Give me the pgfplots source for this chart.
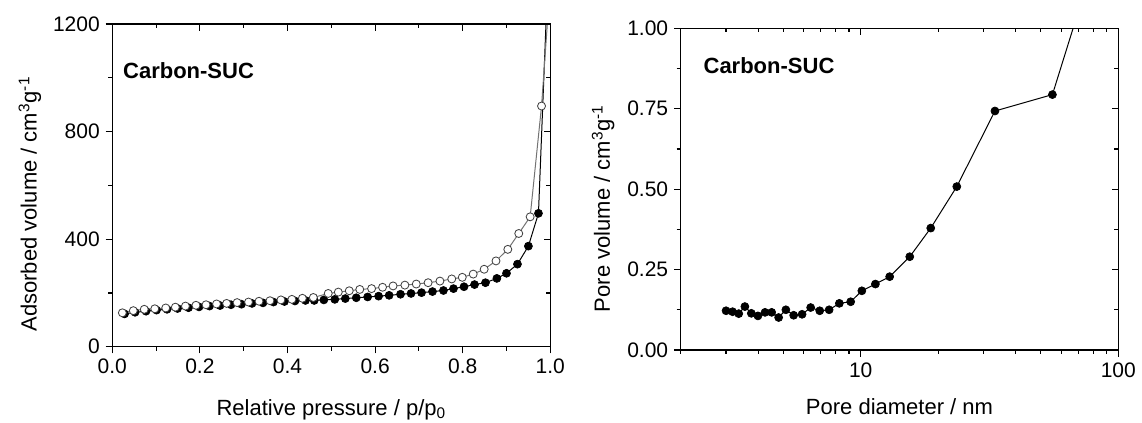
\documentclass[border=0pt]{standalone}
\usepackage{fontspec}
\setmainfont{Liberation Sans}
\usepackage{pgfplots}
\usepackage{pgfplotstable}
\pgfplotsset{compat=1.18}

\pgfplotstableread{
p v
0.028 122
0.052 128
0.077 132
0.101 136
0.125 139
0.149 142
0.174 145
0.198 148
0.222 151
0.246 153
0.271 156
0.295 158
0.319 161
0.344 163
0.368 166
0.393 168
0.417 170
0.441 172
0.461 172
0.483 174
0.508 176
0.532 179
0.557 182
0.583 185
0.608 188
0.632 191
0.658 195
0.682 198
0.706 201
0.731 205
0.756 209
0.779 216
0.803 223
0.827 231
0.852 238
0.878 254
0.900 273
0.925 307
0.950 374
0.973 496
0.995 1400
}\adsorption

\pgfplotstableread{
p v
0.023 126
0.048 134
0.073 139
0.097 141
0.122 144
0.144 147
0.167 151
0.191 154
0.214 156
0.238 159
0.261 161
0.285 164
0.311 166
0.335 169
0.360 171
0.385 174
0.410 176
0.434 180
0.459 183
0.493 198
0.516 203
0.541 208
0.565 213
0.592 216
0.617 221
0.641 226
0.668 229
0.694 233
0.721 238
0.748 244
0.775 252
0.799 258
0.824 270
0.849 288
0.876 319
0.903 362
0.928 421
0.954 483
0.980 895
0.995 1241
}\desorption

\pgfplotstableread{
d v
3.00 0.122
3.18 0.119
3.36 0.113
3.55 0.135
3.76 0.114
3.99 0.106
4.25 0.117
4.51 0.117
4.80 0.101
5.12 0.125
5.49 0.108
5.92 0.111
6.39 0.132
6.93 0.122
7.54 0.125
8.26 0.145
9.14 0.150
10.1 0.184
11.4 0.205
12.95 0.228
15.5 0.290
18.7 0.379
23.6 0.508
33.2 0.743
55.5 0.794
80.0 1.202
}\poresize

\pgfplotsset{
  base/.style={
    scale only axis,
    axis line style={line width=0.9pt},
    every tick/.style={line width=0.7pt,black},
    major tick length=4pt,
    minor tick length=2.4pt,
    ticklabel style={font=\fontsize{12.6}{14}\selectfont},
    label style={font=\fontsize{13.2}{15}\selectfont},
    /pgf/number format/assume math mode=true,
    /pgf/number format/1000 sep={},
  },
  mirror/.style={
    base,
    xtick pos=right, ytick pos=right,
    tick align=inside,
    xticklabels={}, yticklabels={},
  },
  leftax/.style={
    width=262.8pt, height=193.6pt,
    at={(67.38pt,45.78pt)}, anchor=south west,
    xmin=0, xmax=1, ymin=0, ymax=1200,
    xtick={0,0.2,...,1.0}, minor x tick num=1,
    ytick={0,400,800,1200}, minor y tick num=1,
  },
  rightax/.style={
    width=262.56pt, height=193.0pt,
    at={(408.42pt,43.8pt)}, anchor=south west,
    xmin=2, xmax=100, ymin=0, ymax=1,
    xtick={10,100},
    minor xtick={2,3,4,5,6,7,8,9,20,30,40,50,60,70,80,90},
    ytick={0,0.25,0.5,0.75,1}, minor y tick num=1,
  },
}

\begin{document}
\begin{tikzpicture}
\useasboundingbox (0,0) rectangle (685.2pt,253.8pt);

% ---------- left: isotherm ----------
\begin{axis}[
  base, leftax,
  xtick pos=left, ytick pos=left,
  tick align=outside,
  xticklabel style={/pgf/number format/.cd,fixed,fixed zerofill,precision=1},
  yticklabel style={/pgf/number format/.cd,fixed,precision=0},
  xlabel={Relative pressure / p/p\textsubscript{0}},
  ylabel={Adsorbed volume / cm\textsuperscript{3}g\textsuperscript{-1}},
  xlabel style={at={(rel axis cs:0.5,-0.2117)}, anchor=base},
  ylabel style={at={(rel axis cs:-0.1726,0.442)}, anchor=base},
]
\addplot[black, line width=0.6pt, mark=*, mark size=2.4pt,
  mark options={fill=black, draw=black, line width=0.4pt}]
  table[x=p, y=v] {\adsorption};
\addplot[black!55, line width=0.6pt, mark=*, mark size=2.4pt,
  mark options={fill=white, draw=black!75, line width=0.5pt}]
  table[x=p, y=v] {\desorption};
\node[anchor=west, inner sep=0pt, font=\fontsize{13.2}{15}\selectfont\bfseries]
  at (rel axis cs:0.024,0.857) {Carbon-SUC};
\end{axis}
\begin{axis}[mirror, leftax]
\end{axis}

% ---------- right: pore size ----------
\begin{axis}[
  xmode=log,
  base, rightax,
  xtick pos=left, ytick pos=left,
  tick align=outside,
  log ticks with fixed point,
  yticklabel style={/pgf/number format/.cd,fixed,fixed zerofill,precision=2},
  xlabel={Pore diameter / nm},
  ylabel={Pore volume / cm\textsuperscript{3}g\textsuperscript{-1}},
  xlabel style={at={(rel axis cs:0.5,-0.202)}, anchor=base},
  ylabel style={at={(rel axis cs:-0.1616,0.44)}, anchor=base},
]
\addplot[black, line width=0.6pt, mark=*, mark size=2.4pt,
  mark options={fill=black, draw=black, line width=0.4pt}]
  table[x=d, y=v] {\poresize};
\node[anchor=west, inner sep=0pt, font=\fontsize{13.2}{15}\selectfont\bfseries]
  at (rel axis cs:0.0516,0.883) {Carbon-SUC};
\end{axis}
\begin{axis}[xmode=log, mirror, rightax]
\end{axis}
\end{tikzpicture}
\end{document}
